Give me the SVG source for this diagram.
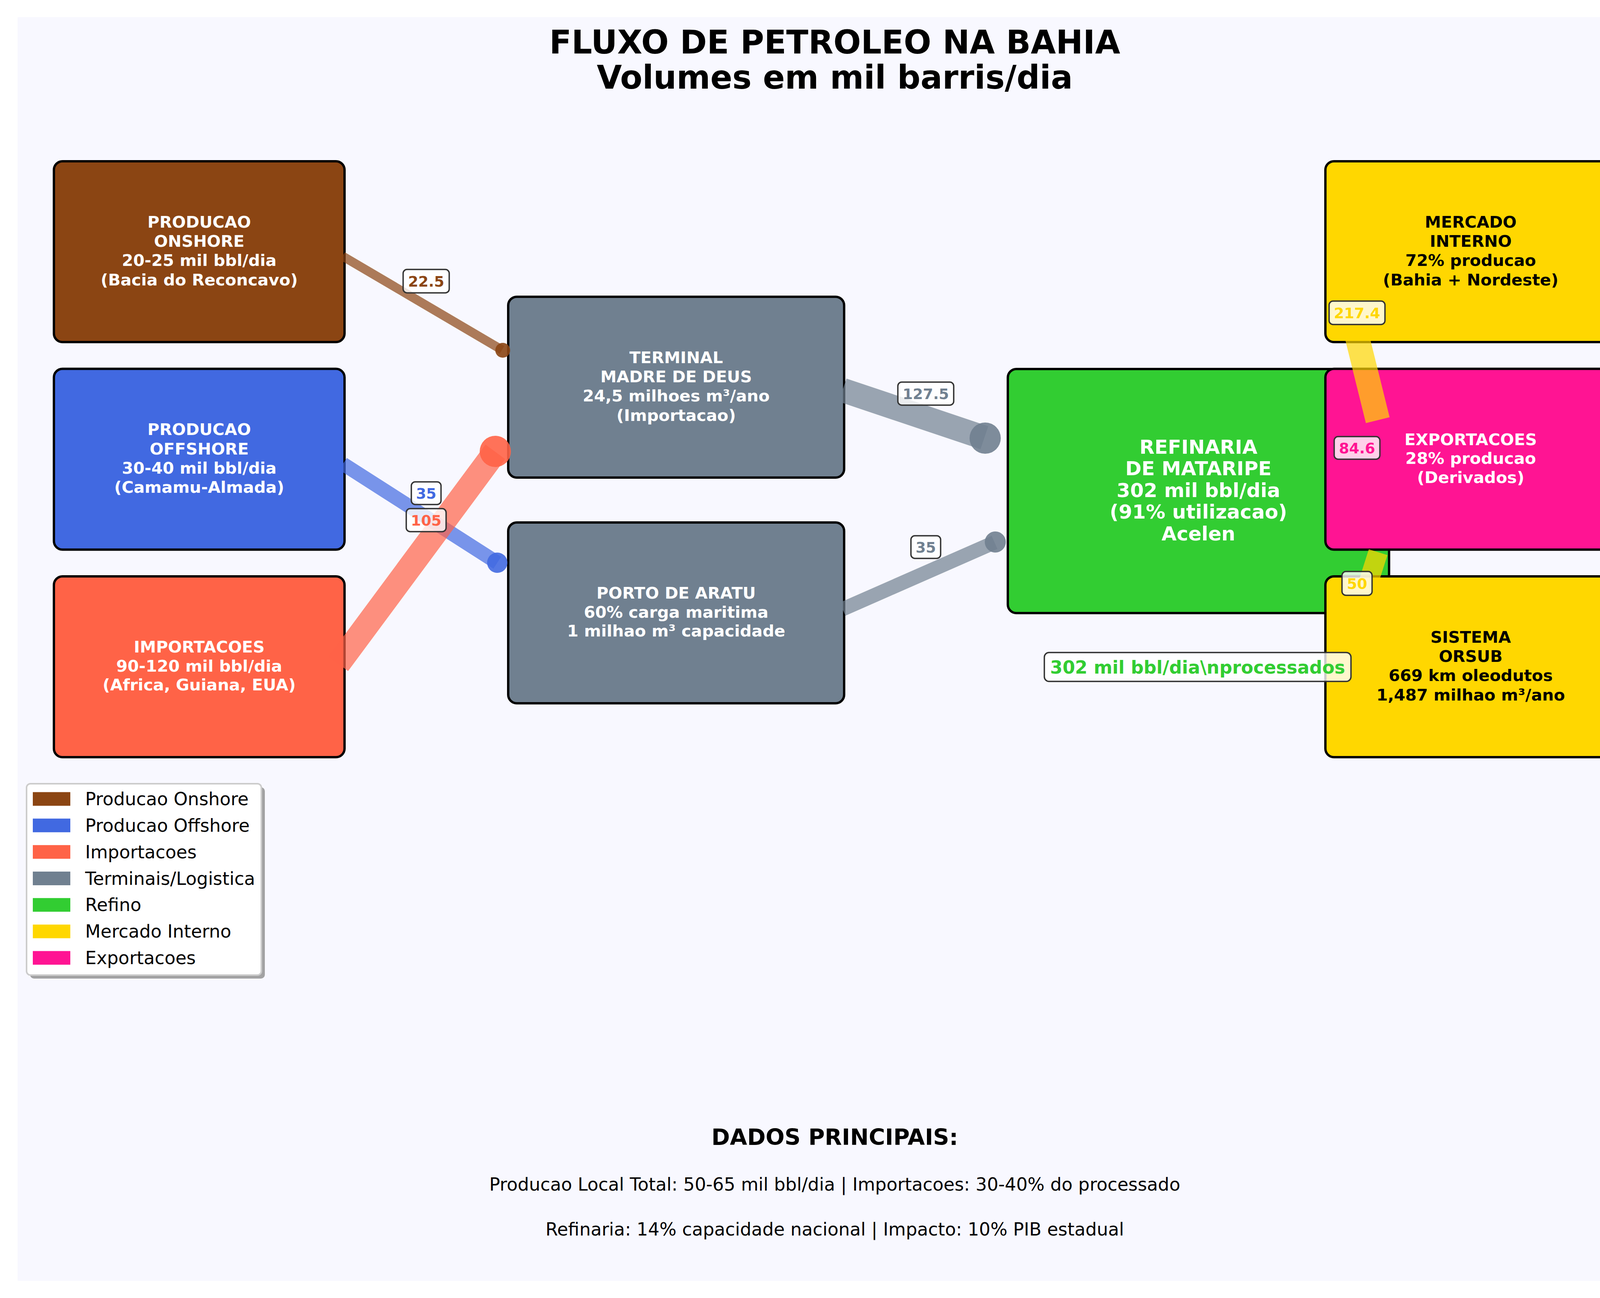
<svg xmlns="http://www.w3.org/2000/svg" width="4274" height="3324" viewBox="0 0 4274 3324">
<style>
.box{stroke:#000;stroke-width:6}
.nt{font-family:'DejaVu Sans','Liberation Sans',sans-serif;font-weight:bold;font-size:41.7px;text-anchor:middle}
.w{fill:#fff}
.k{fill:#000}
.big{font-size:50px}
.edge{fill:none;stroke-opacity:0.7;stroke-linecap:butt}
.blob{fill-opacity:0.9}
.lbl rect{fill:#fff;fill-opacity:0.8;stroke:#333;stroke-width:3.5}
.lbl text{font-family:'DejaVu Sans','Liberation Sans',sans-serif;font-weight:bold;font-size:37.5px;text-anchor:middle}
.leg{font-family:'DejaVu Sans','Liberation Sans',sans-serif;font-size:45.8px;fill:#000}
.title{font-family:'DejaVu Sans','Liberation Sans',sans-serif;font-weight:bold;font-size:83px;text-anchor:middle;fill:#000}
.foot{font-family:'DejaVu Sans','Liberation Sans',sans-serif;font-size:45.8px;text-anchor:middle;fill:#000}
</style>
<rect x="0" y="0" width="4274" height="3324" fill="#ffffff"/>
<rect x="45" y="44" width="4185" height="3236" fill="#f8f8ff"/>

<g id="title">
<text class="title" x="2137" y="137">FLUXO DE PETROLEO NA BAHIA</text>
<text class="title" x="2137" y="227">Volumes em mil barris/dia</text>
</g>

<g id="node-onshore">
<rect class="box" x="138" y="413" width="744" height="463" rx="22" fill="#8B4513"/>
<text class="nt w" x="510" y="582.8">PRODUCAO</text>
<text class="nt w" x="510" y="632.1">ONSHORE</text>
<text class="nt w" x="510" y="681.4">20-25 mil bbl/dia</text>
<text class="nt w" x="510" y="730.7">(Bacia do Reconcavo)</text>
</g>
<g id="node-offshore">
<rect class="box" x="138" y="944.5" width="744" height="463" rx="22" fill="#4169E1"/>
<text class="nt w" x="510" y="1114.3">PRODUCAO</text>
<text class="nt w" x="510" y="1163.6">OFFSHORE</text>
<text class="nt w" x="510" y="1212.9">30-40 mil bbl/dia</text>
<text class="nt w" x="510" y="1262.2">(Camamu-Almada)</text>
</g>
<g id="node-importacoes">
<rect class="box" x="138" y="1476" width="744" height="463" rx="22" fill="#FF6347"/>
<text class="nt w" x="510" y="1671.2">IMPORTACOES</text>
<text class="nt w" x="510" y="1719.7">90-120 mil bbl/dia</text>
<text class="nt w" x="510" y="1768.2">(Africa, Guiana, EUA)</text>
</g>
<g id="node-terminal">
<rect class="box" x="1301" y="760" width="860" height="463" rx="22" fill="#708090"/>
<text class="nt w" x="1731" y="929.7">TERMINAL</text>
<text class="nt w" x="1731" y="979">MADRE DE DEUS</text>
<text class="nt w" x="1731" y="1028.4">24,5 milhoes m³/ano</text>
<text class="nt w" x="1731" y="1077.7">(Importacao)</text>
</g>
<g id="node-porto">
<rect class="box" x="1301" y="1338" width="860" height="463" rx="22" fill="#708090"/>
<text class="nt w" x="1731" y="1533.2">PORTO DE ARATU</text>
<text class="nt w" x="1731" y="1581.7">60% carga maritima</text>
<text class="nt w" x="1731" y="1630.2">1 milhao m³ capacidade</text>
</g>
<g id="node-refinaria">
<rect class="box" x="2580" y="945" width="976" height="625" rx="22" fill="#32CD32"/>
<text class="nt w big" x="3068" y="1161.8">REFINARIA</text>
<text class="nt w big" x="3068" y="1217.3">DE MATARIPE</text>
<text class="nt w big" x="3068" y="1272.8">302 mil bbl/dia</text>
<text class="nt w big" x="3068" y="1328.3">(91% utilizacao)</text>
<text class="nt w big" x="3068" y="1383.8">Acelen</text>
</g>
<g id="node-mercado">
<rect class="box" x="3393" y="413" width="744" height="463" rx="22" fill="#FFD700"/>
<text class="nt k" x="3765" y="582.8">MERCADO</text>
<text class="nt k" x="3765" y="632.1">INTERNO</text>
<text class="nt k" x="3765" y="681.4">72% producao</text>
<text class="nt k" x="3765" y="730.7">(Bahia + Nordeste)</text>
</g>
<g id="node-exportacoes">
<rect class="box" x="3393" y="944.5" width="744" height="463" rx="22" fill="#FF1493"/>
<text class="nt w" x="3765" y="1139.7">EXPORTACOES</text>
<text class="nt w" x="3765" y="1188.2">28% producao</text>
<text class="nt w" x="3765" y="1236.7">(Derivados)</text>
</g>
<g id="node-orsub">
<rect class="box" x="3393" y="1476" width="744" height="463" rx="22" fill="#FFD700"/>
<text class="nt k" x="3765" y="1645.7">SISTEMA</text>
<text class="nt k" x="3765" y="1695">ORSUB</text>
<text class="nt k" x="3765" y="1744.4">669 km oleodutos</text>
<text class="nt k" x="3765" y="1793.7">1,487 milhao m³/ano</text>
</g>

<g id="connectors">
<line class="edge" x1="877" y1="656" x2="1285" y2="896" stroke="#8B4513" stroke-width="23"/>
<circle class="blob" cx="1287" cy="897" r="19" fill="#8B4513"/>
<line class="edge" x1="878" y1="1188" x2="1273" y2="1441" stroke="#4169E1" stroke-width="36.5"/>
<circle class="blob" cx="1273" cy="1441" r="26" fill="#4169E1"/>
<line class="edge" x1="866" y1="1700" x2="1268" y2="1157" stroke="#FF6347" stroke-width="62.5"/>
<circle class="blob" cx="1268" cy="1156" r="40" fill="#FF6347"/>
<line class="edge" x1="2157" y1="999" x2="2520" y2="1121" stroke="#708090" stroke-width="62.5"/>
<circle class="blob" cx="2522" cy="1122" r="40" fill="#708090"/>
<line class="edge" x1="2157" y1="1560" x2="2546" y2="1389" stroke="#708090" stroke-width="36.5"/>
<circle class="blob" cx="2548" cy="1388" r="27" fill="#708090"/>
<line class="edge" x1="3471" y1="850" x2="3527" y2="1076" stroke="#FFD700" stroke-width="62.5" stroke-linecap="round"/>
<line class="edge" x1="3499" y1="1505" x2="3528" y2="1414" stroke="#FFD700" stroke-width="50" stroke-linecap="round"/>

<g class="lbl">
<rect x="1032" y="690" width="118" height="60" rx="10"/>
<text x="1091" y="733.7" fill="#8B4513">22.5</text>
<rect x="1053" y="1234" width="76" height="58" rx="10"/>
<text x="1091" y="1276.7" fill="#4169E1">35</text>
<rect x="1040" y="1302.5" width="102" height="59" rx="10"/>
<text x="1091" y="1345.7" fill="#FF6347">105</text>
<rect x="2298.5" y="978.5" width="143" height="59" rx="10"/>
<text x="2370" y="1021.7" fill="#708090">127.5</text>
<rect x="2332" y="1372" width="76" height="58" rx="10"/>
<text x="2370" y="1414.7" fill="#708090">35</text>
<rect x="3402.5" y="771" width="143" height="60" rx="10"/>
<text x="3474" y="814.7" fill="#FFD700">217.4</text>
<rect x="3415.5" y="1118" width="117" height="58" rx="10"/>
<text x="3474" y="1160.7" fill="#FF1493">84.6</text>
<rect x="3435.5" y="1463.5" width="77" height="61" rx="10"/>
<text x="3474" y="1507.7" fill="#FFD700">50</text>
<rect x="2673.5" y="1671" width="785" height="74" rx="12"/>
<text x="3066" y="1724.7" fill="#32CD32" style="font-size:45.8px">302 mil bbl/dia\nprocessados</text>
</g>
</g>

<g id="legend">
<rect x="77" y="2016" width="601" height="490" rx="10" fill="#8c8c8c" fill-opacity="0.8"/>
<rect x="68" y="2007" width="601" height="490" rx="10" fill="#ffffff" stroke="#cccccc" stroke-width="4"/>
<rect x="84" y="2028.5" width="96" height="35" fill="#8B4513"/>
<text class="leg" x="218" y="2062">Producao Onshore</text>
<rect x="84" y="2096.3" width="96" height="35" fill="#4169E1"/>
<text class="leg" x="218" y="2129.8">Producao Offshore</text>
<rect x="84" y="2164.2" width="96" height="35" fill="#FF6347"/>
<text class="leg" x="218" y="2197.7">Importacoes</text>
<rect x="84" y="2232" width="96" height="35" fill="#708090"/>
<text class="leg" x="218" y="2265.5">Terminais/Logistica</text>
<rect x="84" y="2299.8" width="96" height="35" fill="#32CD32"/>
<text class="leg" x="218" y="2333.3">Refino</text>
<rect x="84" y="2367.7" width="96" height="35" fill="#FFD700"/>
<text class="leg" x="218" y="2401.2">Mercado Interno</text>
<rect x="84" y="2435.5" width="96" height="35" fill="#FF1493"/>
<text class="leg" x="218" y="2469">Exportacoes</text>
</g>

<g id="dados">
<text class="foot" x="2137" y="2932" style="font-weight:bold;font-size:57px">DADOS PRINCIPAIS:</text>
<text class="foot" x="2137" y="3049">Producao Local Total: 50-65 mil bbl/dia | Importacoes: 30-40% do processado</text>
<text class="foot" x="2137" y="3164">Refinaria: 14% capacidade nacional | Impacto: 10% PIB estadual</text>
</g>
</svg>
